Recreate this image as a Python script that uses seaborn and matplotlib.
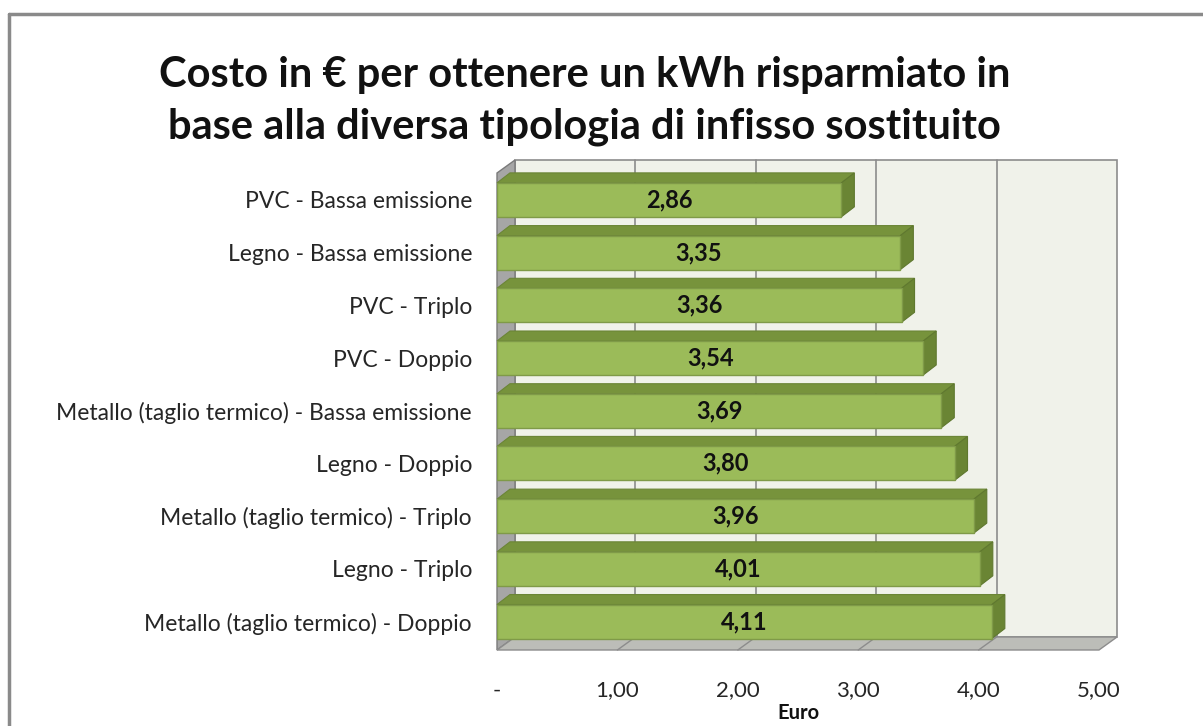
import numpy as np
import pandas as pd
import seaborn as sns
import matplotlib.pyplot as plt
from matplotlib.patches import Polygon, Rectangle
from matplotlib.transforms import IdentityTransform

# === Data
categorie = ["PVC - Bassa emissione", "Legno - Bassa emissione", "PVC - Triplo",
             "PVC - Doppio", "Metallo (taglio termico) - Bassa emissione",
             "Legno - Doppio", "Metallo (taglio termico) - Triplo",
             "Legno - Triplo", "Metallo (taglio termico) - Doppio"]
costo = [2.86, 3.35, 3.36, 3.54, 3.69, 3.80, 3.96, 4.01, 4.11]
xticks = [0, 1, 2, 3, 4, 5]
xtick_labels = ["-", "1,00", "2,00", "3,00", "4,00", "5,00"]

df = pd.DataFrame({"tipo": categorie, "euro": costo})

sns.set_style("white")
plt.rcParams['font.family'] = ['Lato', 'DejaVu Sans']

W, H = 1203, 726
fig = plt.figure(figsize=(W / 100, H / 100), dpi=100)
ax = fig.add_axes([497 / W, 76 / H, 602 / W, 477 / H])
ax.patch.set_visible(False)

# === front faces of the bars
sns.barplot(data=df, x="euro", y="tipo", orient="h", color="#9bbb59", saturation=1,
            width=0.645, edgecolor="#7f9a48", linewidth=1.0, ax=ax, zorder=5)
ax.set_xlim(0, 5)
ax.set_ylim(8.54, -0.51)
for s in ax.spines.values():
    s.set_visible(False)

# wall depth offset (pixels) and bar depth offset
WDX, WDY = 18, 13
BDX, BDY = 13, 10

def ax2px(x, y):
    return ax.transAxes.transform((x, y))

def d2px(x, y):
    return ax.transData.transform((x, y))

ident = IdentityTransform()

# === back wall, left wall, floor
bl, tr = ax2px(0, 0), ax2px(1, 1)
ax.add_patch(Rectangle((bl[0] + WDX, bl[1] + WDY), tr[0] - bl[0], tr[1] - bl[1],
                       transform=ident, facecolor="#f0f2ea", edgecolor="#8c8c8c",
                       lw=1.2, zorder=0, clip_on=False))
ax.add_patch(Polygon([bl, (bl[0], tr[1]), (bl[0] + WDX, tr[1] + WDY), (bl[0] + WDX, bl[1] + WDY)],
                     transform=ident, facecolor="#a6a6a6", edgecolor="#7a7a7a",
                     lw=1.0, zorder=1, clip_on=False))
ax.add_patch(Polygon([bl, (tr[0], bl[1]), (tr[0] + WDX, bl[1] + WDY), (bl[0] + WDX, bl[1] + WDY)],
                     transform=ident, facecolor="#bcbdb8", edgecolor="#8c8c8c",
                     lw=1.0, zorder=1, clip_on=False))

# gridlines on back wall and floor
for t in xticks[1:-1]:
    p = d2px(t, 0)
    ax.plot([p[0] + WDX, p[0] + WDX], [bl[1] + WDY, tr[1] + WDY], color="#8c8c8c",
            lw=1.2, transform=ident, zorder=0.5, clip_on=False)
    ax.plot([p[0], p[0] + WDX], [bl[1], bl[1] + WDY], color="#8c8c8c",
            lw=1.0, transform=ident, zorder=1.5, clip_on=False)

# === 3D top and side faces of the bars + value labels
bars = [p for p in ax.patches if isinstance(p, Rectangle) and p.get_zorder() == 5]
for bar, v in zip(bars, costo):
    x0, y0 = bar.get_x(), bar.get_y()
    x1, y1 = x0 + bar.get_width(), y0 + bar.get_height()
    a = d2px(x0, y0)  # display: top-left (y axis inverted)
    b = d2px(x1, y1)  # bottom-right
    top_y = a[1]
    bot_y = b[1]
    ax.add_patch(Polygon([(a[0], top_y), (b[0], top_y), (b[0] + BDX, top_y + BDY), (a[0] + BDX, top_y + BDY)],
                         transform=ident, facecolor="#77933c", edgecolor="#6b8536",
                         lw=0.8, zorder=4, clip_on=False))
    ax.add_patch(Polygon([(b[0], top_y), (b[0], bot_y), (b[0] + BDX, bot_y + BDY), (b[0] + BDX, top_y + BDY)],
                         transform=ident, facecolor="#6a8534", edgecolor="#5f782f",
                         lw=0.8, zorder=4, clip_on=False))
    ax.text((x0 + x1) / 2, (y0 + y1) / 2, f"{v:.2f}".replace(".", ","),
            ha="center", va="center", fontsize=17, fontweight="bold",
            color="#111111", zorder=7)

# === axes labels
ax.set_xticks(xticks)
ax.set_xticklabels(xtick_labels, fontsize=16, color="#262626")
ax.tick_params(axis="x", length=0, pad=22)
ax.tick_params(axis="y", length=0, pad=18, labelsize=16.5, labelcolor="#262626")
ax.set_ylabel("")
ax.set_xlabel("Euro", fontsize=14.5, fontweight="bold", color="#111111")
ax.xaxis.set_label_coords(0.5, -0.112)

fig.text(0.486, 0.861, "Costo in € per ottenere un kWh risparmiato in\nbase alla diversa tipologia di infisso sostituito",
         ha="center", va="center", fontsize=30, fontweight="bold",
         linespacing=1.42, color="#111111")

# chart border (top and left)
fig.add_artist(plt.Line2D([9 / W, 1], [1 - 14 / H, 1 - 14 / H], color="#8a8a8a", lw=2.5))
fig.add_artist(plt.Line2D([9 / W, 9 / W], [0, 1 - 14 / H], color="#8a8a8a", lw=2.5))

fig.savefig("out.png", dpi=100)
